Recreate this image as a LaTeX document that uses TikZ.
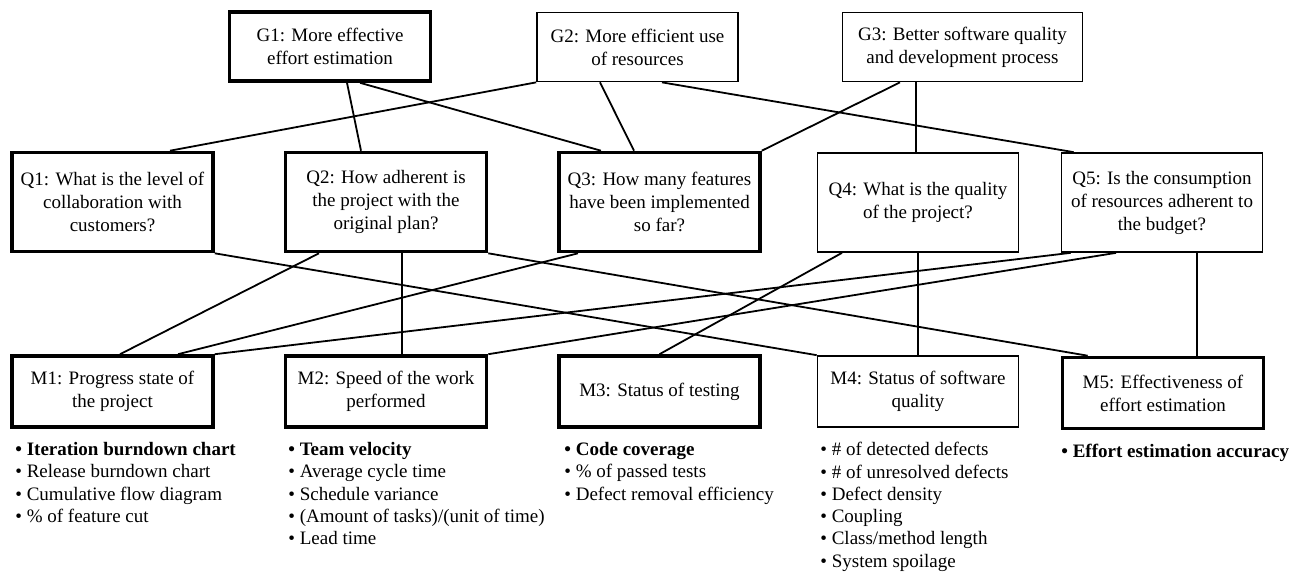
\documentclass[tikz,border=0pt]{standalone}
\usepackage{fontspec}
\setmainfont{Liberation Serif}
\usetikzlibrary{calc}

\begin{document}
\begin{tikzpicture}[x=0.5pt,y=-0.5pt]
\tikzstyle{every node}+=[inner sep=0pt, font=\fontsize{9.5}{11.5}\selectfont]
\tikzstyle{thinbox}=[draw=black, line width=0.85pt, minimum width=100.5pt, align=center]
\tikzstyle{thickbox}=[thinbox, line width=1.8pt]
\tikzstyle{goal}=[minimum height=34.5pt]
\tikzstyle{question}=[minimum height=49.5pt]
\tikzstyle{metric}=[minimum height=35.5pt]
\tikzstyle{link}=[black, line width=0.9pt]
\tikzstyle{metriclist}=[anchor=north west, align=left, font=\fontsize{9.5}{11.15}\selectfont]
\useasboundingbox (0,0) rectangle (1298,575);
% goals
\node [thickbox, goal] (G1) at (330,46.5) {G1: More effective\\effort estimation};
\node [thinbox, goal] (G2) at (637.5,47) {G2: More efficient use\\of resources};
\node [thinbox, goal, minimum width=120pt] (G3) at (962.5,47) {G3: Better software quality\\and development process};
% questions
\node [thickbox, question] (Q1) at (112.5,202) {Q1: What is the level of\\collaboration with\\customers?};
\node [thickbox, question] (Q2) at (386,202) {Q2: How adherent is\\the project with the\\original plan?};
\node [thickbox, question] (Q3) at (659.5,202) {Q3: How many features\\have been implemented\\so far?};
\node [thinbox, question] (Q4) at (918,202.5) {Q4: What is the quality\\of the project?};
\node [thinbox, question] (Q5) at (1162,202.5) {Q5: Is the consumption\\of resources adherent to\\the budget?};
% metrics
\node [thickbox, metric] (M1) at (112.5,391.5) {M1: Progress state of\\the project};
\node [thickbox, metric] (M2) at (386,391.5) {M2: Speed of the work\\performed};
\node [thickbox, metric] (M3) at (659.5,391.5) {M3: Status of testing};
\node [thinbox, metric] (M4) at (918,391.5) {M4: Status of software\\quality};
\node [thickbox, metric] (M5) at (1163,393) {M5: Effectiveness of\\effort estimation};
% goal to question
\draw [link] (G2.south west) -- ($(Q1.north)+(57.5,0)$);
\draw [link] ($(G1.south)+(17,0)$) -- ($(Q2.north)+(-25,0)$);
\draw [link] ($(G1.south)+(30,0)$) -- ($(Q3.north)+(-58.5,0)$);
\draw [link] ($(G2.south)+(-37.5,0)$) -- ($(Q3.north)+(-25.5,0)$);
\draw [link] ($(G2.south)+(24.5,0)$) -- ($(Q5.north west)+(13,0)$);
\draw [link] ($(G3.south)+(-62.5,0)$) -- (Q3.north east);
\draw [link] ($(G3.south)+(-46.5,0)$) -- ($(Q4.north)+(-2,0)$);
% question to metric
\draw [link] (Q1.south east) -- (M4.north west);
\draw [link] ($(Q2.south)+(-67,0)$) -- ($(M1.north)+(7.5,0)$);
\draw [link] ($(Q2.south)+(16,0)$) -- ($(M2.north)+(16,0)$);
\draw [link] (Q2.south east) -- ($(M5.north west)+(27,0)$);
\draw [link] ($(Q3.south)+(-81.5,0)$) -- ($(M1.north)+(65.5,0)$);
\draw [link] ($(Q4.south)+(-76,0)$) -- (M3.north);
\draw [link] (Q4.south) -- (M4.north);
\draw [link] ($(Q5.south west)+(10,0)$) -- (M1.north east);
\draw [link] ($(Q5.south)+(-46,0)$) -- (M2.north east);
\draw [link] ($(Q5.south)+(35,0)$) -- ($(M5.north)+(34,0)$);
% metric lists
\node [metriclist] (L1) at (15,442) {\textbf{\textbullet\ Iteration burndown chart}\\\textbullet\ Release burndown chart\\\textbullet\ Cumulative flow diagram\\\textbullet\ \% of feature cut};
\node [metriclist] (L2) at (288,442) {\textbf{\textbullet\ Team velocity}\\\textbullet\ Average cycle time\\\textbullet\ Schedule variance\\\textbullet\ (Amount of tasks)/(unit of time)\\\textbullet\ Lead time};
\node [metriclist] (L3) at (564,442) {\textbf{\textbullet\ Code coverage}\\\textbullet\ \% of passed tests\\\textbullet\ Defect removal efficiency};
\node [metriclist] (L4) at (820,442) {\textbullet\ \# of detected defects\\\textbullet\ \# of unresolved defects\\\textbullet\ Defect density\\\textbullet\ Coupling\\\textbullet\ Class/method length\\\textbullet\ System spoilage};
\node [metriclist] (L5) at (1061,443.5) {\textbf{\textbullet\ Effort estimation accuracy}};
\end{tikzpicture}
\end{document}
